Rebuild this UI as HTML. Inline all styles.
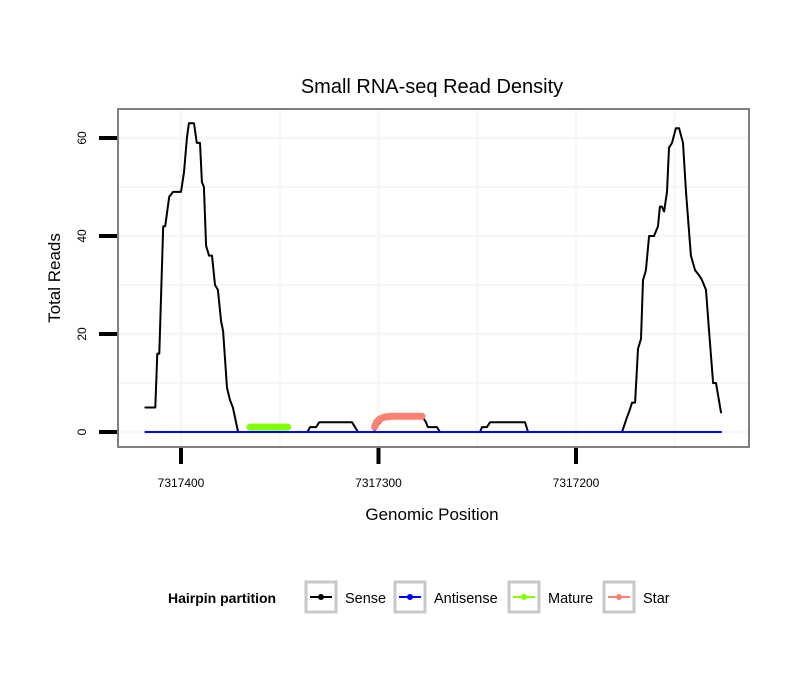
<!DOCTYPE html>
<html><head><meta charset="utf-8"><style>
body{margin:0;background:#fff;}
svg{display:block;font-family:"Liberation Sans",sans-serif;}
</style></head><body>
<svg id="chart" width="810" height="690">
<text x="432" y="93" text-anchor="middle" font-size="20">Small RNA-seq Read Density</text>
<rect x="118" y="109" width="631" height="338" fill="#fff"/>
<g id="grid"></g>
<g id="series"></g>
<rect x="118" y="109" width="631" height="338" fill="none" stroke="#7f7f7f" stroke-width="2"/>
<g id="axes"></g>
<text x="432" y="520" text-anchor="middle" font-size="17">Genomic Position</text>
<text transform="translate(60,278) rotate(-90)" text-anchor="middle" font-size="17">Total Reads</text>
<g>
<text x="168" y="603" font-size="14" font-weight="bold">Hairpin partition</text>
<g><rect x="306" y="582" width="30" height="30" fill="#fff" stroke="#c8c8c8" stroke-width="3"/><line x1="310" y1="597" x2="332" y2="597" stroke="#000" stroke-width="2"/><circle cx="321" cy="597" r="3" fill="#000"/><text x="345" y="603" font-size="14.5">Sense</text></g>
<g><rect x="395" y="582" width="30" height="30" fill="#fff" stroke="#c8c8c8" stroke-width="3"/><line x1="399" y1="597" x2="421" y2="597" stroke="#0000ff" stroke-width="2"/><circle cx="410" cy="597" r="3" fill="#0000ff"/><text x="434" y="603" font-size="14.5">Antisense</text></g>
<g><rect x="509" y="582" width="30" height="30" fill="#fff" stroke="#c8c8c8" stroke-width="3"/><line x1="513" y1="597" x2="535" y2="597" stroke="#7fff00" stroke-width="2"/><circle cx="524" cy="597" r="3" fill="#7fff00"/><text x="548" y="603" font-size="14.5">Mature</text></g>
<g><rect x="604" y="582" width="30" height="30" fill="#fff" stroke="#c8c8c8" stroke-width="3"/><line x1="608" y1="597" x2="630" y2="597" stroke="#fa8072" stroke-width="2"/><circle cx="619" cy="597" r="3" fill="#fa8072"/><text x="643" y="603" font-size="14.5">Star</text></g>
</g>
</svg>
<script>
const senseBase = 7317000;
const sensePos = [418,413,412,411,409,408,406,404,400,398.5,397,396,393.4,392,390.4,389.4,388.4,387.3,385.8,384.3,382.8,381.3,379.7,378.7,376.7,375.2,373.7,371.1,336,334.7,331.6,330,313.4,310.4,302.3,301.3,296.7,277.5,276,275,270.4,268.9,248.6,247.6,245.1,243.5,225.8,224.3,176.7,174.2,173.2,171.6,170.1,168.6,167.1,166.1,164.6,163,160.5,158.5,157.5,156.5,155.4,153.9,152.9,151.4,149.4,147.8,145.8,144.3,141.8,139.7,137.7,136.2,134.2,132.7,130.6,129.1,126.6];
const senseVal = [5,5,16,16,42,42,48,49,49,53,60,63,63,59,59,51,50,38,36,36,30,29,22.6,20.6,9,6.5,5,0,0,1,1,2,2,0,0,1,3,3,2,1,1,0,0,1,1,2,2,0,0,3,4,6,6,17,19,31,33,40,40,42,46,46,45,49,58,59,62,62,59,49,36,33,32,31,29,21,10,10,4];
const antisensePos = [418,126.6];
const antisenseVal = [0,0];
const maturePos = [365,364,363,362,361,360,359,358,357,356,355,354,353,352,351,350,349,348,347,346];
const matureVal = [1,1,1,1,1,1,1,1,1,1,1,1,1,1,1,1,1,1,1,1];
const starPos = [302,301.5,301,300,299,298,297,296,295,294,293,292,291,290,289,288,287,286,285,284,283,282,281,280,279,278];
const starVal = [1,1.5,2,2.4,2.7,2.9,3,3.1,3.1,3.2,3.2,3.2,3.2,3.2,3.2,3.2,3.2,3.2,3.2,3.2,3.2,3.2,3.2,3.2,3.2,3.2];
const xTicks = [7317400,7317300,7317200];
const xMinor = [7317350,7317250,7317150];
const yTicks = [0,20,40,60];
const yMinor = [10,30,50];

const NS='http://www.w3.org/2000/svg';
function X(p){return 181+(7317400-p)*1.975;}
function Y(v){return 432-v*4.9;}
function mk(tag,attrs,parent){const e=document.createElementNS(NS,tag);for(const k in attrs)e.setAttribute(k,attrs[k]);parent.appendChild(e);return e;}
const grid=document.getElementById('grid'),axes=document.getElementById('axes'),ser=document.getElementById('series');
yTicks.concat(yMinor).forEach(v=>{const l=mk('line',{x1:118,x2:749,y1:Y(v),y2:Y(v),stroke:'#f6f6f6','stroke-width':yTicks.includes(v)?2.5:2},grid);

});
xTicks.concat(xMinor).forEach(p=>{const l=mk('line',{x1:X(p),x2:X(p),y1:109,y2:447,stroke:'#f6f6f6','stroke-width':xTicks.includes(p)?2.5:2},grid);

});
yTicks.forEach(v=>{const t=mk('line',{x1:99,x2:117,y1:Y(v),y2:Y(v),stroke:'#000','stroke-width':4},axes);


const tx=mk('text',{transform:`translate(86,${Y(v)}) rotate(-90)`,'text-anchor':'middle','font-size':12},axes);tx.textContent=v;

});
xTicks.forEach(p=>{const t=mk('line',{x1:X(p),x2:X(p),y1:448,y2:464,stroke:'#000','stroke-width':4},axes);


const tx=mk('text',{x:X(p),y:487,'text-anchor':'middle','font-size':12},axes);tx.textContent=p;

});
function path(pos,val,color,w,name){const d=pos.map((p,i)=>(i?'L':'M')+X(senseBase+p).toFixed(1)+','+Y(val[i]).toFixed(1)).join('');
const e=mk('path',{d:d,fill:'none',stroke:color,'stroke-width':w,'stroke-linejoin':'round','stroke-linecap':'round'},ser);

return e;}
path(sensePos,senseVal,'#000',2,'sense-line');
path(antisensePos,antisenseVal,'#0000ff',2,'antisense-line');
path(maturePos,matureVal,'#7fff00',7,'mature-line');
path(starPos,starVal,'#fa8072',7,'star-line');
</script>
</body></html>
